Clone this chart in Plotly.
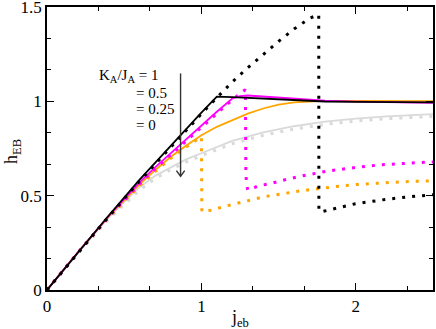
import plotly.graph_objects as go

# ---- data ----
black_x = [0, 0.2, 0.4, 0.6, 0.7, 0.8, 0.9, 1.0, 1.05, 1.1, 1.2, 1.3, 1.4, 1.5, 1.6, 1.7, 1.8, 2.0, 2.2, 2.5]
black_y = [0, 0.2, 0.395, 0.585, 0.675, 0.765, 0.852, 0.94, 0.983, 1.025, 1.022, 1.018, 1.013, 1.008, 1.004, 1.0, 0.999, 0.997, 0.996, 0.995]

black_dot_x = [0, 0.2, 0.4, 0.6, 0.7, 0.8, 0.9, 1.0, 1.05, 1.1, 1.2, 1.3, 1.4, 1.5, 1.6, 1.7, 1.76, 1.761, 1.79,
               1.832, 1.886, 1.935, 1.99, 2.043, 2.095, 2.148, 2.2, 2.256, 2.31, 2.363, 2.413, 2.5]
black_dot_y = [0, 0.198, 0.39, 0.578, 0.668, 0.758, 0.845, 0.933, 0.977, 1.02, 1.103, 1.178, 1.25, 1.318, 1.383, 1.44, 1.46, 0.418, 0.417,
               0.424, 0.436, 0.445, 0.456, 0.463, 0.47, 0.476, 0.481, 0.486, 0.492, 0.495, 0.499, 0.505]

mag_x = [0, 0.2, 0.4, 0.6, 0.7, 0.8, 0.9, 1.0, 1.1, 1.2, 1.25, 1.3, 1.4, 1.5, 1.6, 1.7, 1.8, 2.0, 2.2, 2.5]
mag_y = [0, 0.2, 0.393, 0.57, 0.65, 0.725, 0.8, 0.87, 0.945, 1.015, 1.028, 1.031, 1.025, 1.018, 1.012, 1.007, 1.003, 0.998, 0.995, 0.992]

mag_dot_x = [0, 0.2, 0.4, 0.6, 0.7, 0.8, 0.9, 1.0, 1.1, 1.2, 1.25, 1.285, 1.288, 1.292, 1.3, 1.37, 1.435, 1.5, 1.565,
             1.63, 1.695, 1.76, 1.82, 1.885, 1.95, 2.015, 2.09, 2.155, 2.22, 2.28, 2.35, 2.42, 2.5]
mag_dot_y = [0, 0.198, 0.388, 0.563, 0.642, 0.716, 0.79, 0.86, 0.935, 1.008, 1.04, 1.062, 0.62, 0.565, 0.53, 0.552, 0.562, 0.577, 0.589,
             0.601, 0.612, 0.622, 0.631, 0.638, 0.645, 0.652, 0.658, 0.663, 0.667, 0.67, 0.672, 0.676, 0.679]

org_x = [0, 0.2, 0.4, 0.6, 0.7, 0.8, 0.9, 1.0, 1.1, 1.2, 1.3, 1.4, 1.5, 1.6, 1.7, 1.8, 2.0, 2.5]
org_y = [0, 0.2, 0.39, 0.56, 0.635, 0.705, 0.765, 0.82, 0.865, 0.9, 0.935, 0.962, 0.982, 0.995, 1.0, 1.002, 1.002, 1.001]

org_dot_x = [0, 0.2, 0.4, 0.6, 0.7, 0.8, 0.9, 1.0, 1.003, 1.07, 1.135, 1.2, 1.265, 1.33, 1.395, 1.46, 1.52, 1.585,
             1.655, 1.72, 1.785, 1.85, 1.92, 1.985, 2.05, 2.11, 2.175, 2.245, 2.315, 2.38, 2.5]
org_dot_y = [0, 0.198, 0.385, 0.553, 0.627, 0.697, 0.757, 0.812, 0.415, 0.424, 0.44, 0.454, 0.468, 0.481, 0.492, 0.502, 0.511, 0.518,
             0.527, 0.534, 0.541, 0.546, 0.553, 0.558, 0.562, 0.566, 0.569, 0.571, 0.574, 0.576, 0.579]

gray_x = [0, 0.2, 0.4, 0.6, 0.7, 0.8, 0.9, 1.0, 1.2, 1.4, 1.6, 1.8, 2.0, 2.2, 2.5]
gray_y = [0, 0.197, 0.385, 0.545, 0.605, 0.65, 0.692, 0.725, 0.79, 0.835, 0.868, 0.892, 0.908, 0.92, 0.932]
gray_dot_y = [0, 0.195, 0.375, 0.53, 0.59, 0.637, 0.678, 0.712, 0.775, 0.82, 0.853, 0.878, 0.895, 0.908, 0.92]

legend_lines = ["K<sub>A</sub>/J<sub>A</sub> = 1", "= 0.5", "= 0.25", "= 0"]
x_ticks = [0, 1, 2]
y_ticks = [0, 0.5, 1, 1.5]

ARROW_X, ARROW_TOP, ARROW_BOT = 0.865, 1.148, 0.603

FONT = "'Liberation Serif', 'Times New Roman', serif"
GRAY = "#d9d9d9"
MAG = "#ff00ff"
ORG = "#ffa500"
DOT = "3px,7px"

fig = go.Figure()

def solid(x, y, c):
    fig.add_trace(go.Scatter(x=x, y=y, mode="lines", line=dict(color=c, width=1.8), showlegend=False, hoverinfo="skip"))

def dotted(x, y, c):
    fig.add_trace(go.Scatter(x=x, y=y, mode="lines", line=dict(color=c, width=3, dash=DOT), showlegend=False, hoverinfo="skip"))

solid(gray_x, gray_y, GRAY)
dotted(gray_x, gray_dot_y, GRAY)
dotted(org_dot_x, org_dot_y, ORG)
solid(org_x, org_y, ORG)
dotted(mag_dot_x, mag_dot_y, MAG)
solid(mag_x, mag_y, MAG)
dotted(black_dot_x, black_dot_y, "black")
solid(black_x, black_y, "black")

# plot-area pixel helpers (plot area: x 47..433, y 7..290)
def px(xp):
    return (xp - 47) / 386

def py(yp):
    return (290 - yp) / 283

anns = [dict(x=px(97), y=py(76), text=legend_lines[0])]
for i, t in enumerate(legend_lines[1:]):
    anns.append(dict(x=px(134), y=py(93 + 16 * i), text=t))
for a in anns:
    fig.add_annotation(x=a["x"], y=a["y"], xref="paper", yref="paper", text=a["text"], showarrow=False,
                       xanchor="left", yanchor="middle", font=dict(family=FONT, size=15, color="black"))

# axis titles
fig.add_annotation(x=px(240), y=py(318), xref="paper", yref="paper", text="j<sub>eb</sub>",
                   showarrow=False, xanchor="center", yanchor="middle", font=dict(family=FONT, size=18, color="black"))
fig.add_annotation(x=px(12), y=py(152), xref="paper", yref="paper", text="h<sub>EB</sub>",
                   showarrow=False, xanchor="center", yanchor="middle", textangle=-90,
                   font=dict(family=FONT, size=18, color="black"))

# arrow
fig.add_shape(type="line", x0=ARROW_X, x1=ARROW_X, y0=ARROW_TOP, y1=ARROW_BOT, xref="x", yref="y",
              line=dict(color="#333333", width=1.4))
fig.add_shape(type="path", xref="x", yref="y",
              path=f"M {ARROW_X-0.027} {ARROW_BOT+0.03} L {ARROW_X} {ARROW_BOT} L {ARROW_X+0.027} {ARROW_BOT+0.03}",
              line=dict(color="#333333", width=1.4))

axis_common = dict(showgrid=False, zeroline=False, showline=True, linecolor="black", linewidth=1.5,
                   mirror="allticks", ticks="inside", tickcolor="black", ticklen=7, tickwidth=1.2,
                   automargin=False, ticklabeloverflow="allow",
                   tickfont=dict(family=FONT, size=17, color="black"))

fig.update_xaxes(range=[0, 2.5], tickvals=x_ticks, ticktext=[str(v) for v in x_ticks],
                 minor=dict(dtick=1/3, tick0=0, ticks="inside", ticklen=4, tickcolor="black", tickwidth=1.2),
                 **axis_common)
fig.update_yaxes(range=[0, 1.500001], tickvals=y_ticks, ticktext=["0", "0.5", "1", "1.5"],
                 minor=dict(dtick=1/6, tick0=0, ticks="inside", ticklen=4, tickcolor="black", tickwidth=1.2),
                 **axis_common)

fig.update_layout(width=436, height=329, margin=dict(l=47, r=3, t=7, b=39),
                  plot_bgcolor="white", paper_bgcolor="white")

fig.write_html("out.html", config={"displayModeBar": False},
               post_script="document.body.style.margin='0px';document.body.style.padding='0px';")
